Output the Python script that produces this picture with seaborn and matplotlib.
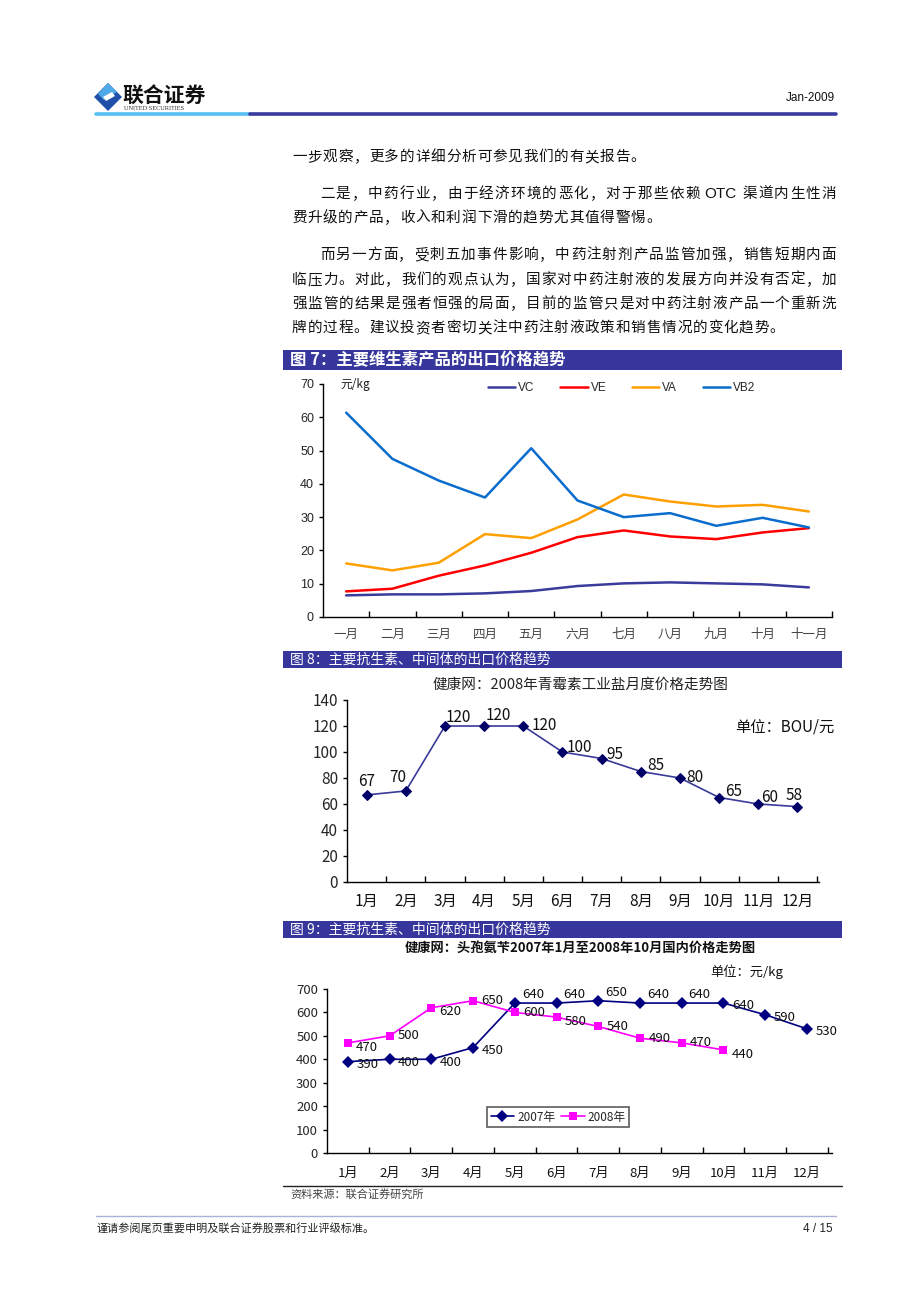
import warnings
warnings.filterwarnings("ignore")

import matplotlib
matplotlib.use("Agg")
import matplotlib.pyplot as plt
from matplotlib.patches import Rectangle, Polygon
from matplotlib.lines import Line2D
import seaborn as sns
import numpy as np
import pandas as pd

sns.set_theme(style="white")
plt.rcParams["font.family"] = ["Noto Sans CJK SC", "DejaVu Sans"]
plt.rcParams["axes.unicode_minus"] = False

# ── 数据 ─────────────────────────────────────────────────────────
MONTHS_CN = ["一月", "二月", "三月", "四月", "五月", "六月",
             "七月", "八月", "九月", "十月", "十一月"]
VC = [6.5, 6.8, 6.8, 7.1, 7.8, 9.3, 10.1, 10.4, 10.1, 9.8, 8.9]
VE = [7.7, 8.5, 12.4, 15.5, 19.3, 24.0, 26.0, 24.2, 23.4, 25.4, 26.7]
VA = [16.1, 14.0, 16.3, 24.9, 23.7, 29.3, 36.8, 34.7, 33.2, 33.7, 31.7]
VB2 = [61.4, 47.5, 41.0, 35.9, 50.7, 35.0, 30.0, 31.2, 27.4, 29.8, 26.9]

MONTHS_12 = [f"{i}月" for i in range(1, 13)]
PENICILLIN = [67, 70, 120, 120, 120, 100, 95, 85, 80, 65, 60, 58]

CEPH_2007 = [390, 400, 400, 450, 640, 640, 650, 640, 640, 640, 590, 530]
CEPH_2008 = [470, 500, 620, 650, 600, 580, 540, 490, 470, 440]

ARIAL = ["Liberation Sans", "DejaVu Sans"]

# ── 页面坐标工具 (像素 → figure) ──────────────────────────────────
W, H = 920, 1302
fig = plt.figure(figsize=(W / 100, H / 100), dpi=100)
fig.patch.set_facecolor("white")


def fx(x):
    return x / W


def fy(y):
    return 1 - y / H


def rect(x0, y0, x1, y1):
    return [x0 / W, 1 - y1 / H, (x1 - x0) / W, (y1 - y0) / H]


def hline(x0, x1, y, color, lw):
    fig.add_artist(Line2D([fx(x0), fx(x1)], [fy(y), fy(y)], color=color,
                          linewidth=lw, transform=fig.transFigure))


def bar(y0, y1, text, bold):
    fig.add_artist(Rectangle((fx(283), fy(y1)), fx(842) - fx(283), fy(y0) - fy(y1),
                             transform=fig.transFigure, facecolor="#36369c",
                             edgecolor="none"))
    fig.text(fx(290), fy((y0 + y1) / 2), text, color="white",
             fontsize=11.8 if bold else 10, fontweight="bold" if bold else "normal",
             va="center", ha="left")


FS_BODY = 10.5
EM = FS_BODY * 100 / 72


def put_line(x0, y, tokens, x1=None, spacing=15.4):
    units = [1.0 if len(t) == 1 else 2.6 for t in tokens]
    total = sum(units)
    if x1 is not None:
        spacing = (x1 - EM - x0) / (total - 1)
    cum = 0.0
    for t, u in zip(tokens, units):
        if len(t) == 1:
            fig.text(fx(x0 + cum * spacing), fy(y), t, fontsize=FS_BODY,
                     color="#111111", va="center", ha="left")
        else:
            cx = x0 + cum * spacing + (u * spacing) / 2 - (spacing - EM) / 2
            fig.text(fx(cx), fy(y), t, fontsize=11, color="#111111",
                     va="center", ha="center", family=ARIAL)
        cum += u


# ── 页眉 ─────────────────────────────────────────────────────────
fig.add_artist(Polygon([[fx(108), fy(83)], [fx(122), fy(97)], [fx(108), fy(111)],
                        [fx(94), fy(97)]], closed=True, transform=fig.transFigure,
                       facecolor="#1f4fa8", edgecolor="none"))
fig.add_artist(Polygon([[fx(108), fy(83)], [fx(117), fy(92)], [fx(104), fy(100)],
                        [fx(98), fy(94)]], closed=True, transform=fig.transFigure,
                       facecolor="#4fa8e8", edgecolor="none"))
fig.add_artist(Polygon([[fx(103), fy(97)], [fx(112), fy(92)], [fx(115), fy(96)],
                        [fx(106), fy(101)]], closed=True, transform=fig.transFigure,
                       facecolor="white", edgecolor="none"))
fig.text(fx(122), fy(96), "联合证券", fontsize=15, fontweight="bold",
         color="#111111", va="center", ha="left")
fig.text(fx(124), fy(108.5), "UNITED SECURITIES", fontsize=4.5,
         family=["Liberation Serif", "DejaVu Serif"], color="#333333",
         va="center", ha="left")
fig.text(fx(835), fy(98), "Jan-2009", fontsize=8.5, color="#111111",
         va="center", ha="right", family=ARIAL)
hline(96, 250, 113.5, "#55c0f0", 2.6)
hline(250, 836, 113.5, "#3a3aa0", 2.6)

# ── 正文 ─────────────────────────────────────────────────────────
put_line(292, 157, list("一步观察，更多的详细分析可参见我们的有关报告。"))
put_line(320, 194, list("二是，中药行业，由于经济环境的恶化，对于那些依赖")
         + ["OTC"] + list("渠道内生性消"), x1=836)
put_line(292, 218, list("费升级的产品，收入和利润下滑的趋势尤其值得警惕。"))
put_line(320, 255, list("而另一方面，受刺五加事件影响，中药注射剂产品监管加强，销售短期内面"), x1=836)
put_line(292, 280, list("临压力。对此，我们的观点认为，国家对中药注射液的发展方向并没有否定，加"), x1=836)
put_line(292, 304, list("强监管的结果是强者恒强的局面，目前的监管只是对中药注射液产品一个重新洗"), x1=836)
put_line(292, 328, list("牌的过程。建议投资者密切关注中药注射液政策和销售情况的变化趋势。"))


def style_axes(ax, n, xlim_right, label_fs, label_color, pad):
    for s in ["top", "right"]:
        ax.spines[s].set_visible(False)
    for s in ["left", "bottom"]:
        ax.spines[s].set_color("black")
        ax.spines[s].set_linewidth(1.0)
    ax.set_facecolor("white")
    ax.set_xlim(-0.5, xlim_right)
    ax.set_xticks(np.arange(n))
    ax.set_xticks(np.arange(n) + 0.5, minor=True)
    ax.tick_params(axis="x", which="major", length=0, pad=pad,
                   labelsize=label_fs, labelcolor=label_color)
    ax.tick_params(axis="x", which="minor", direction="in", length=4,
                   width=1, color="black", bottom=True)
    ax.tick_params(axis="y", which="major", direction="out", length=3,
                   width=1, color="black", left=True, labelsize=label_fs)
    ax.set_xlabel("")
    ax.set_ylabel("")
    ax.grid(False)


# ── 图 7 ─────────────────────────────────────────────────────────
bar(350, 370, "图 7：主要维生素产品的出口价格趋势", bold=True)
df7 = pd.DataFrame({
    "pos": np.tile(np.arange(len(MONTHS_CN)), 4),
    "value": VC + VE + VA + VB2,
    "series": np.repeat(["VC", "VE", "VA", "VB2"], len(MONTHS_CN)),
})
pal7 = {"VC": "#3b3b9e", "VE": "#ff0000", "VA": "#ffa000", "VB2": "#0a6ccc"}
ax7 = fig.add_axes(rect(323, 384, 832, 617))
sns.lineplot(data=df7, x="pos", y="value", hue="series",
             hue_order=["VC", "VE", "VA", "VB2"], palette=pal7,
             linewidth=1.8, ax=ax7)
ax7.set_ylim(0, 70)
ax7.set_yticks(range(0, 71, 10))
style_axes(ax7, len(MONTHS_CN), 10.5, 9, "#444444", 8)
ax7.set_xticklabels(MONTHS_CN)
for t in ax7.get_yticklabels():
    t.set_family(ARIAL)
    t.set_fontsize(9)
h, l = ax7.get_legend_handles_labels()
ax7.legend(h, l, loc="center left", bbox_to_anchor=(fx(488), fy(388)),
           bbox_transform=fig.transFigure, ncol=4, frameon=False,
           prop={"family": ARIAL, "size": 8.5},
           handlelength=2.3, handletextpad=0.25, columnspacing=2.2,
           borderpad=0, borderaxespad=0)
fig.text(fx(340), fy(384), "元/kg", fontsize=8.5, color="#222222",
         va="center", ha="left")

# ── 图 8 ─────────────────────────────────────────────────────────
bar(651, 668, "图 8：主要抗生素、中间体的出口价格趋势", bold=False)
fig.text(fx(580), fy(685), "健康网：2008年青霉素工业盐月度价格走势图",
         fontsize=10.5, color="#222222", va="center", ha="center")
ax8 = fig.add_axes(rect(347, 700, 819, 882))
pos8 = np.arange(len(MONTHS_12))
sns.lineplot(x=pos8, y=PENICILLIN, ax=ax8, color="#3a3a9a", linewidth=1.2,
             marker="D", markersize=5, markerfacecolor="#000066",
             markeredgecolor="#000066")
ax8.set_ylim(0, 140)
ax8.set_yticks(range(0, 141, 20))
style_axes(ax8, len(MONTHS_12), 11.55, 11, "#111111", 8)
ax8.set_xticklabels(MONTHS_12)
offs8 = [(0, 13, "center"), (-8, 13, "center"), (1, 8, "left"), (2, 11, "left"),
         (8, 0, "left"), (4, 5, "left"), (5, 4, "left"), (6, 6, "left"),
         (6, 0, "left"), (6, 6, "left"), (3, 6, "left"), (-3, 11, "center")]
for i, (v, (dx, dy, ha)) in enumerate(zip(PENICILLIN, offs8)):
    ax8.annotate(str(v), (i, v), xytext=(dx, dy), textcoords="offset pixels",
                 ha=ha, va="center", fontsize=11, color="#111111")
fig.text(fx(735), fy(727), "单位：BOU/元", fontsize=11, color="#111111",
         va="center", ha="left")

# ── 图 9 ─────────────────────────────────────────────────────────
bar(921, 938, "图 9：主要抗生素、中间体的出口价格趋势", bold=False)
fig.text(fx(580), fy(948), "健康网：头孢氨苄2007年1月至2008年10月国内价格走势图",
         fontsize=9.5, fontweight="bold", color="#111111", va="center", ha="center")
fig.text(fx(710), fy(972), "单位：元/kg", fontsize=9.5, color="#111111",
         va="center", ha="left")
df9 = pd.DataFrame({
    "pos": list(range(len(CEPH_2007))) + list(range(len(CEPH_2008))),
    "value": CEPH_2007 + CEPH_2008,
    "year": ["2007年"] * len(CEPH_2007) + ["2008年"] * len(CEPH_2008),
})
ax9 = fig.add_axes(rect(327, 989, 832, 1153))
sns.lineplot(data=df9, x="pos", y="value", hue="year", style="year",
             markers={"2007年": "D", "2008年": "s"}, dashes=False,
             palette={"2007年": "#000080", "2008年": "#ff00ff"},
             markersize=6, markeredgewidth=0, linewidth=1.2, ax=ax9)
ax9.set_ylim(0, 700)
ax9.set_yticks(range(0, 701, 100))
style_axes(ax9, len(MONTHS_12), 11.6, 9.5, "#111111", 10)
ax9.set_xticklabels(MONTHS_12)
for i, v in enumerate(CEPH_2007):
    dx, dy = (6, -2)
    if 4 <= i <= 8:
        dx, dy = (5, 6)
    ax9.annotate(str(v), (i, v), xytext=(dx, dy), textcoords="offset points",
                 ha="left", va="center", fontsize=9.5, color="#111111")
for i, v in enumerate(CEPH_2008):
    dy = -3 if i in (0, 2, 5, 9) else 0
    ax9.annotate(str(v), (i, v), xytext=(6, dy), textcoords="offset points",
                 ha="left", va="center", fontsize=9.5, color="#111111")
h, l = ax9.get_legend_handles_labels()
leg = ax9.legend(h, l, loc="center left", bbox_to_anchor=(fx(487), fy(1117)),
                 bbox_transform=fig.transFigure, ncol=2, frameon=True, fontsize=8.5,
                 handlelength=2.0, handletextpad=0.25, columnspacing=0.5,
                 borderpad=0.3, borderaxespad=0, fancybox=False)
leg.get_frame().set_edgecolor("#333333")
leg.get_frame().set_linewidth(1.2)

# ── 资料来源与页脚 ───────────────────────────────────────────────
hline(283, 842, 1186, "#222222", 1.0)
fig.text(fx(290), fy(1194), "资料来源：联合证券研究所", fontsize=8,
         color="#444444", va="center", ha="left")
hline(96, 836, 1216, "#aab0d8", 1.0)
fig.text(fx(96), fy(1229), "谨请参阅尾页重要申明及联合证券股票和行业评级标准。",
         fontsize=8, color="#222222", va="center", ha="left")
fig.text(fx(833), fy(1229), "4 / 15", fontsize=8.5, color="#222222",
         va="center", ha="right", family=ARIAL)

plt.savefig("out.png", dpi=100)
plt.close()
